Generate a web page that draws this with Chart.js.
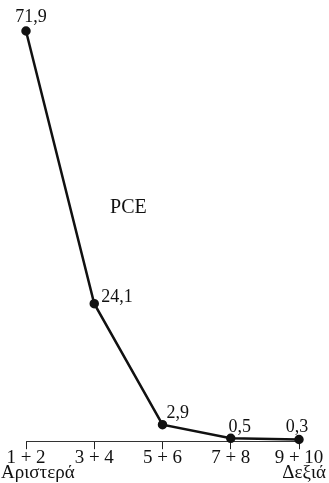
<!DOCTYPE html>
<html>
<head>
<meta charset="utf-8">
<script src="https://cdn.jsdelivr.net/npm/chart.js@4.4.0/dist/chart.umd.min.js"></script>
<style>
  html, body { margin: 0; padding: 0; background: #fff; }
  #wrap { width: 329px; height: 483px; }
</style>
</head>
<body>
<div id="wrap"><canvas id="grafico"></canvas></div>
<script>
const categorias = ['1 + 2', '3 + 4', '5 + 6', '7 + 8', '9 + 10'];
const valores = [71.9, 24.1, 2.9, 0.5, 0.3];
const extremos = ['Αριστερά', 'Δεξιά'];
const titulo = 'PCE';

const fonte = "'Liberation Serif', 'DejaVu Serif', serif";

// deslocamento dos rótulos em relação a cada ponto
const desloc = [
  { dx: 5, dy: -14, align: 'center' },
  { dx: 7, dy: -6, align: 'left' },
  { dx: 4, dy: -11, align: 'left' },
  { dx: 9, dy: -11, align: 'center' },
  { dx: -2, dy: -12, align: 'center' }
];

const rotulos = {
  id: 'rotulos',
  afterDatasetsDraw(chart) {
    const ctx = chart.ctx;
    const meta = chart.getDatasetMeta(0);
    ctx.save();
    ctx.fillStyle = '#111';
    ctx.font = '18px ' + fonte;
    ctx.textBaseline = 'middle';
    meta.data.forEach((p, i) => {
      const d = desloc[i];
      ctx.textAlign = d.align;
      ctx.fillText(valores[i].toString().replace('.', ','), p.x + d.dx, p.y + d.dy);
    });

    // titulo no meio
    const x = chart.scales.x;
    const y = chart.scales.y;
    ctx.font = '20px ' + fonte;
    ctx.textAlign = 'center';
    ctx.fillText(titulo, (x.getPixelForValue(1) + x.getPixelForValue(2)) / 2, y.getPixelForValue(41));

    // Αριστερά / Δεξιά
    ctx.font = '19px ' + fonte;
    ctx.textAlign = 'left';
    ctx.fillText(extremos[0], 1, 473);
    ctx.textAlign = 'right';
    ctx.fillText(extremos[1], 326, 473);
    ctx.restore();
  }
};

const el = document.getElementById('grafico');

new Chart(el, {
  type: 'line',
  data: {
    labels: categorias,
    datasets: [{
      data: valores,
      borderColor: '#111',
      borderWidth: 2.5,
      backgroundColor: '#111',
      pointRadius: 3.5,
      pointHoverRadius: 3.5,
      tension: 0,
      clip: false
    }]
  },
  options: {
    responsive: true,
    maintainAspectRatio: false,
    animation: false,
    layout: {
      padding: { left: 26, right: 30, top: 31, bottom: 17 }
    },
    plugins: {
      legend: { display: false },
      tooltip: { enabled: false }
    },
    scales: {
      x: {
        offset: false,
        grid: {
          drawOnChartArea: false,
          drawTicks: true,
          tickLength: 8,
          color: '#222'
        },
        border: { display: true, color: '#333', width: 1 },
        ticks: {
          color: '#111',
          padding: -3,
          maxRotation: 0,
          autoSkip: false,
          font: { family: fonte, size: 19 }
        }
      },
      y: {
        display: false,
        min: 0,
        max: 71.9
      }
    }
  },
  plugins: [rotulos]
});
</script>
</body>
</html>
